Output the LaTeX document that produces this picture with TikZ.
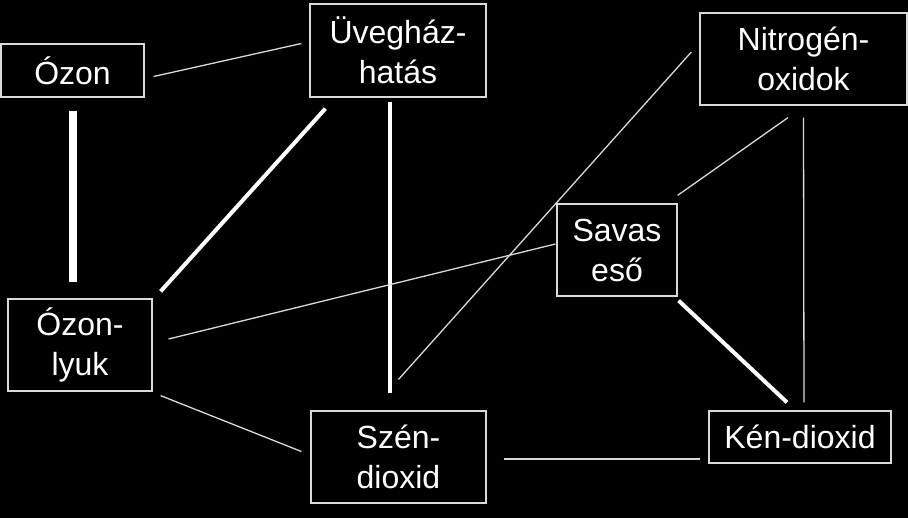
\documentclass[tikz,border=0pt]{standalone}
\usepackage{fontspec}
\setmainfont{Liberation Sans}
\usetikzlibrary{calc}
\definecolor{linegray}{gray}{0.85}

\begin{document}
\begin{tikzpicture}[x=1pt,y=-1pt,
  box/.style={draw=linegray, line width=1.2pt, text=white, inner sep=0pt,
    font=\fontsize{32}{40}\selectfont, align=center},
  thinline/.style={linegray, line width=1.3pt},
  thickline/.style={white, line width=4pt},
  fatline/.style={white, line width=8pt}]
% hatter
\fill[black] (0,0) rectangle (908,518);
%% dobozok;
\node[box, minimum width=143pt, minimum height=53pt] (ozon) at (72.5,70.5) {Ózon};
\node[box, minimum width=176pt, minimum height=93pt] (uveghaz) at (398,50.5) {Üvegház-\\hatás};
\node[box, minimum width=207pt, minimum height=92pt] (nitrogen) at (803.5,59) {Nitrogén-\\oxidok};
\node[box, minimum width=120pt, minimum height=92pt] (savas) at (617,250) {Savas\\eső};
\node[box, minimum width=144pt, minimum height=92pt] (lyuk) at (80,345) {Ózon-\\lyuk};
\node[box, minimum width=175pt, minimum height=92pt] (szen) at (398.5,457) {Szén-\\dioxid};
\node[box, minimum width=182pt, minimum height=52pt] (ken) at (800,437) {Kén-dioxid};
%% vonalak;
\draw[thinline] ($(ozon.east)+(9,6)$) -- ($(uveghaz.west)+(-8,-7)$);
\draw[fatline] ($(ozon.south)+(0.5,13)$) -- ($(lyuk.north)+(-7,-16)$);
\draw[thickline] ($(uveghaz.south west)+(16,11)$) -- ($(lyuk.north east)+(8,-7)$);
\draw[thickline, line width=3.5pt] ($(uveghaz.south)+(-8,4)$) -- ($(szen.north)+(-8.5,-17)$);
\draw[thinline] ($(nitrogen.west)+(-8,-7)$) -- ($(szen.north)+(0,-31)$);
\draw[thinline] ($(nitrogen.south)+(-15.5,12)$) -- ($(savas.north east)+(0,-8)$);
\draw[thinline] ($(nitrogen.south)+(0,12)$) -- ($(ken.north)+(4,-8)$);
\draw[thinline] ($(savas.west)+(-1,-6)$) -- ($(lyuk.east)+(16,-6)$);
\draw[thinline] ($(lyuk.south east)+(8,4)$) -- ($(szen.west)+(-9,-5.5)$);
\draw[thinline] ($(szen.east)+(17,2)$) -- ($(ken.west)+(-8,22)$);
\draw[thickline] ($(savas.south east)+(1,4)$) -- ($(ken.north)+(-13,-8)$);

\end{tikzpicture}
\end{document}
